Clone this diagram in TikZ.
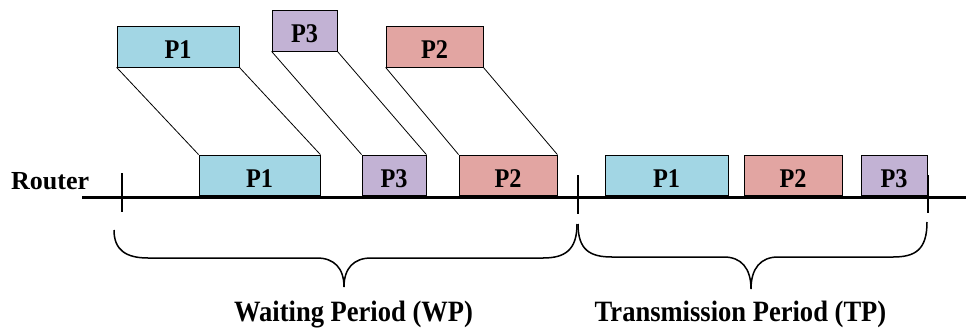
\documentclass[tikz,border=0pt]{standalone}
\usepackage{fontspec}
\setmainfont{Liberation Serif}
\usepackage{graphicx}
\definecolor{pblue}{RGB}{162,214,228}
\definecolor{ppurple}{RGB}{194,178,212}
\definecolor{ppink}{RGB}{226,165,162}
\newcommand{\condtxt}[1]{\scalebox{0.9}[1]{#1}}
\begin{document}
\begin{tikzpicture}[x=1pt,y=-1pt,
  pkt/.style={draw=black, line width=0.8pt, inner sep=0pt, minimum height=41pt,
    text height=24pt, text depth=0pt, font=\bfseries\fontsize{27}{27}\selectfont},
  lowpkt/.style={pkt, minimum height=40pt},
  conn/.style={line width=0.8pt},
  timeline/.style={line width=3pt},
  tickmark/.style={line width=1.4pt},
  bracepath/.style={line width=1.5pt},
  period/.style={anchor=base, inner sep=0pt, font=\bfseries\fontsize{29.5}{30}\selectfont}]
\useasboundingbox (0,0) rectangle (966,327);

% incoming packets
\node[pkt, fill=pblue, minimum width=122pt] (tP1) at (178,46.5) {\condtxt{P1}};
\node[pkt, fill=ppurple, minimum width=65pt] (tP3) at (304.5,30.5) {\condtxt{P3}};
\node[pkt, fill=ppink, minimum width=97pt] (tP2) at (434.5,46.5) {\condtxt{P2}};

% packets arriving at router
\node[lowpkt, fill=pblue, minimum width=121pt] (bP1) at (259.5,175) {\condtxt{P1}};
\node[lowpkt, fill=ppurple, minimum width=64pt] (bP3) at (394,175) {\condtxt{P3}};
\node[lowpkt, fill=ppink, minimum width=98pt] (bP2) at (508,175) {\condtxt{P2}};

% transmitted packets
\node[lowpkt, fill=pblue, minimum width=123pt] (xP1) at (666.5,175) {\condtxt{P1}};
\node[lowpkt, fill=ppink, minimum width=98pt] (xP2) at (793,175) {\condtxt{P2}};
\node[lowpkt, fill=ppurple, minimum width=66pt] (xP3) at (894,175) {\condtxt{P3}};

% connectors
\draw[conn] (tP1.south west) -- (bP1.north west);
\draw[conn] (tP1.south east) -- (bP1.north east);
\draw[conn] (tP3.south west) -- (bP3.north west);
\draw[conn] (tP3.south east) -- (bP3.north east);
\draw[conn] (tP2.south west) -- (bP2.north west);
\draw[conn] (tP2.south east) -- (bP2.north east);

% router timeline
\node[anchor=base west, inner sep=0pt, font=\bfseries\fontsize{26}{26}\selectfont] (router) at (11,189) {Router};
\coordinate (lineL) at (82,197);
\coordinate (lineR) at (966,197);
\draw[timeline] (lineL) -- (lineR);

\coordinate (t1a) at (122,173); \coordinate (t1b) at (122,212);
\coordinate (t2a) at (578,175); \coordinate (t2b) at (578,214);
\coordinate (t3a) at (928,175); \coordinate (t3b) at (928,213);
\draw[tickmark] (t1a) -- (t1b);
\draw[tickmark] (t2a) -- (t2b);
\draw[tickmark] (t3a) -- (t3b);

% braces
\draw[bracepath] (114,230) .. controls (114,250) and (126,258) .. (148,258) -- (317,258)
  .. controls (334,258) and (344,268) .. (344,287)
  .. controls (344,268) and (354,258) .. (371,258) -- (543,258)
  .. controls (565,258) and (577,250) .. (577,224);
\draw[bracepath] (578,224) .. controls (578,250) and (590,257) .. (612,257) -- (724,257)
  .. controls (741,257) and (751,268) .. (751,289)
  .. controls (751,268) and (761,257) .. (778,257) -- (893,257)
  .. controls (915,257) and (927,250) .. (927,222);

% period labels
\node[period] (wp) at (353.5,321) {\condtxt{Waiting Period (WP)}};
\node[period] (tp) at (740.5,321) {\condtxt{Transmission Period (TP)}};
\end{tikzpicture}
\end{document}
